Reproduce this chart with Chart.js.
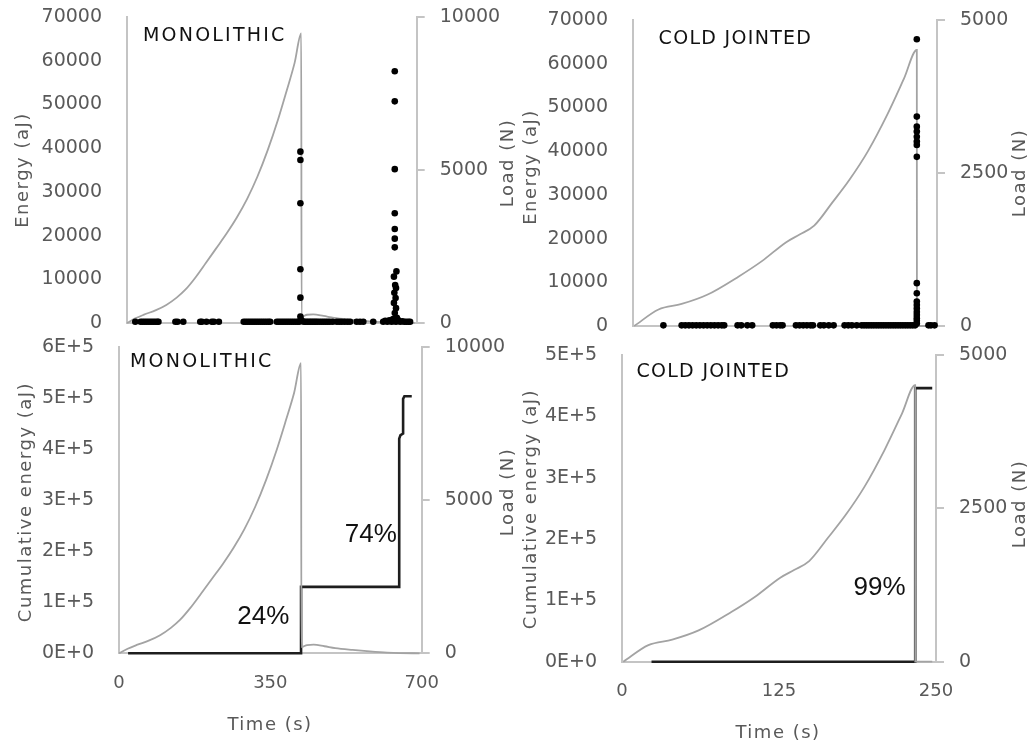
<!DOCTYPE html>
<html>
<head>
<meta charset="utf-8">
<script src="https://cdn.jsdelivr.net/npm/chart.js@4.4.1/dist/chart.umd.min.js"></script>
<style>
html,body{margin:0;padding:0;background:#fff;}
body{width:1032px;height:745px;position:relative;overflow:hidden;}
.p{position:absolute;}
</style>
</head>
<body>
<div class="p" style="left:0;top:0;width:525px;height:336px"><canvas id="c1"></canvas></div>
<div class="p" style="left:516px;top:0;width:516px;height:338px"><canvas id="c2"></canvas></div>
<div class="p" style="left:0;top:336px;width:525px;height:409px"><canvas id="c3"></canvas></div>
<div class="p" style="left:516px;top:338px;width:516px;height:407px"><canvas id="c4"></canvas></div>
<script>
// ---------- DATA ----------
// Monolithic: load (N) vs time (s)
const monoLoadTime = [0, 20, 41, 70, 95, 120, 141, 165, 190, 215, 241, 265, 290, 315, 340, 365, 386, 405, 421, 421.8, 435, 450, 475, 500, 540, 580, 620, 650, 695];
const monoLoad     = [0, 150, 272, 420, 590, 830, 1087, 1480, 1950, 2430, 2930, 3440, 4050, 4780, 5650, 6650, 7600, 8500, 9460, 200, 270, 280, 230, 170, 110, 60, 20, 5, 0];
// Monolithic: AE hit energy (aJ)
const monoEnergyTime = [20, 33, 38, 43, 48, 53, 58, 63, 68, 73, 76, 117, 122, 136, 177, 181, 192, 205, 210, 222,
  282, 287, 292, 297, 302, 307, 312, 317, 322, 327, 332, 337, 342, 346, 362, 367, 372, 377, 382, 387, 392, 397, 402, 407, 412, 416,
  419, 419, 419, 419, 419, 419, 420,
  424, 428, 432, 436, 440, 444, 448, 452, 456, 460, 465, 470, 475, 480, 485, 490, 497, 507, 513, 519, 526, 533, 539, 555, 563, 571, 595,
  619, 624, 629, 634, 639, 644, 650, 655, 660, 665, 670, 675, 680, 684,
  647, 647, 647, 647, 647, 647, 647, 651, 645, 648, 650, 646, 649, 645, 650, 647, 652, 643, 655];
const monoEnergy = [300, 300, 300, 300, 300, 300, 300, 300, 300, 300, 300, 300, 300, 300, 300, 300, 300, 300, 300, 300,
  300, 300, 300, 300, 300, 300, 300, 300, 300, 300, 300, 300, 300, 300, 300, 300, 300, 300, 300, 300, 300, 300, 300, 300, 300, 300,
  39200, 37300, 27400, 12300, 5800, 1500, 800,
  400, 300, 300, 300, 300, 300, 300, 300, 300, 300, 300, 300, 300, 300, 300, 300, 300, 300, 300, 300, 300, 300, 300, 300, 300, 300, 300,
  300, 500, 300, 600, 300, 400, 300, 500, 300, 400, 300, 300, 300, 300,
  57600, 50700, 35200, 25100, 21500, 19300, 17300, 11800, 10600, 8700, 8000, 6900, 5700, 4600, 3400, 2300, 1200, 900, 700];
// Monolithic: cumulative energy (aJ)
const monoCumTime = [21, 421, 421, 648, 648, 651, 657, 657, 660, 677];
const monoCum     = [0, 0, 130000, 130000, 420000, 427000, 430000, 498000, 503000, 503000];

// Cold jointed: load (N) vs time (s)
const coldLoadTime = [1, 21, 40, 61, 87, 106, 126, 137, 149, 164, 178, 193, 209, 223, 233.4, 233.5, 247];
const coldLoad     = [0, 270, 360, 510, 810, 1060, 1370, 1495, 1640, 2020, 2390, 2850, 3450, 4050, 4510, 0, 0];
// Cold jointed: AE hit energy (aJ)
const coldEnergyTime = [25, 40, 43, 46, 49, 52, 55, 58, 61, 64, 67, 70, 73, 75, 86, 89, 94, 98, 115, 118, 121, 123,
  134, 137, 140, 143, 146, 148, 154, 157, 161, 165, 174, 177, 180, 184, 188, 190, 192, 194, 196, 198, 200, 202, 204,
  206, 208, 210, 212, 214, 216, 218, 220, 222, 224, 226, 228, 230, 232, 243, 245, 248,
  233.4, 233.4, 233.4, 233.4, 233.4, 233.4, 233.4, 233.4, 233.4, 233.4, 233.4, 233.4, 233.4, 233.4, 233.4, 233.4, 233.4, 233.4];
const coldEnergy = [150, 150, 150, 150, 150, 150, 150, 150, 150, 150, 150, 150, 150, 150, 150, 150, 150, 150, 150, 150, 150, 150,
  150, 150, 150, 150, 150, 150, 150, 150, 150, 150, 150, 150, 150, 150, 150, 150, 150, 150, 150, 150, 150, 150, 150,
  150, 150, 150, 150, 150, 150, 150, 150, 150, 150, 150, 150, 150, 150, 150, 150, 150,
  65600, 47900, 45600, 44500, 43300, 42200, 41400, 38700, 9800, 7500, 5600, 4800, 4000, 3200, 2500, 1800, 1200, 600];
// Cold jointed: cumulative energy (aJ)
const coldCumTime = [23.5, 233.4, 233.45, 247];
const coldCum     = [0, 0, 446000, 446000];

// Tick values / labels
const monoTimeTicks = [0, 350, 700];
const coldTimeTicks = [0, 125, 250];
const energyTicks = [0, 10000, 20000, 30000, 40000, 50000, 60000, 70000];
const monoLoadTicks = [0, 5000, 10000];
const coldLoadTicks = [0, 2500, 5000];
const monoCumTicks = [0, 100000, 200000, 300000, 400000, 500000, 600000];
const monoCumLabels = ['0E+0', '1E+5', '2E+5', '3E+5', '4E+5', '5E+5', '6E+5'];
const coldCumTicks = [0, 100000, 200000, 300000, 400000, 500000];
const coldCumLabels = ['0E+0', '1E+5', '2E+5', '3E+5', '4E+5', '5E+5'];

// ---------- STYLE ----------
const FONT = 'DejaVu Sans';
const TICKC = '#595959';
const AXC = '#c4c4c4';
const AXW = 2;
const LOADC = '#a3a3a3';
const TICKSIZE = 19;

function pts(xs, ys) { return xs.map((x, i) => ({x: x, y: ys[i]})); }

function textPlugin(items) {
  return {
    id: 'texts',
    afterDraw(chart) {
      const ctx = chart.ctx;
      items.forEach(it => {
        ctx.save();
        ctx.font = it.font;
        ctx.fillStyle = it.color;
        if ('letterSpacing' in ctx) ctx.letterSpacing = (it.ls || 0) + 'px';
        ctx.textAlign = it.align || 'center';
        ctx.textBaseline = 'middle';
        ctx.translate(it.x, it.y);
        if (it.rot) ctx.rotate(it.rot);
        ctx.fillText(it.text, 0, 0);
        ctx.restore();
      });
    }
  };
}

const titleFont = '18px "' + FONT + '"';
const boxFont = '19px "' + FONT + '"';
const pctFont = '26px "Liberation Sans"';
const R = -Math.PI / 2;

function noPad(s) { s.paddingTop = 0; s.paddingBottom = 0; s.paddingLeft = 0; s.paddingRight = 0; }

function panel(id, c) {
  new Chart(document.getElementById(id), {
    type: 'scatter',
    data: { datasets: c.datasets },
    options: {
      responsive: true, maintainAspectRatio: false, animation: false, devicePixelRatio: 1,
      layout: { padding: { top: c.padTop, left: 0, right: 0, bottom: 0 } },
      plugins: { legend: { display: false }, tooltip: { enabled: false } },
      scales: {
        x: {
          type: 'linear', position: 'bottom', min: 0, max: c.xTicks[c.xTicks.length - 1],
          grid: { display: false, drawTicks: false },
          border: { display: true, color: AXC, width: AXW },
          ticks: { display: c.showX, padding: 19, autoSkip: false, maxRotation: 0, color: TICKC, font: { family: FONT, size: 18 } },
          afterBuildTicks: s => { s.ticks = c.xTicks.map(v => ({value: v})); },
          afterFit: s => { s.height = c.xH; noPad(s); }
        },
        y: {
          type: 'linear', position: 'left', min: 0, max: c.yTicks[c.yTicks.length - 1],
          grid: { display: false, drawTicks: false },
          border: { display: true, color: AXC, width: AXW },
          ticks: { padding: 25, color: TICKC, font: { family: FONT, size: TICKSIZE },
                   callback: (v, i) => c.yLabels ? c.yLabels[i] : String(v) },
          afterBuildTicks: s => { s.ticks = c.yTicks.map(v => ({value: v})); },
          afterFit: s => { s.width = c.yW; noPad(s); }
        },
        y2: {
          type: 'linear', position: 'right', min: 0, max: c.y2Ticks[c.y2Ticks.length - 1],
          grid: { display: true, drawOnChartArea: false, drawTicks: true, tickLength: 8, color: AXC, lineWidth: AXW },
          border: { display: true, color: AXC, width: AXW },
          ticks: { padding: 15, color: TICKC, font: { family: FONT, size: TICKSIZE }, callback: v => String(v) },
          afterBuildTicks: s => { s.ticks = c.y2Ticks.map(v => ({value: v})); },
          afterFit: s => { s.width = c.y2W; noPad(s); }
        }
      }
    },
    plugins: [textPlugin(c.texts)]
  });
}

function dots(xs, ys) {
  return { data: pts(xs, ys), yAxisID: 'y', showLine: false, pointRadius: 3.3, pointBackgroundColor: '#000',
           pointBorderWidth: 0, pointHoverRadius: 0, clip: false, order: 0 };
}
function loadLine(xs, ys, order) {
  return { data: pts(xs, ys), yAxisID: 'y2', showLine: true, borderColor: LOADC, borderWidth: 1.8, pointRadius: 0,
           pointHoverRadius: 0, cubicInterpolationMode: 'monotone', fill: false, clip: false, order: order };
}
function cumLine(xs, ys, order) {
  return { data: pts(xs, ys), yAxisID: 'y', showLine: true, borderColor: '#1e1e1e', borderWidth: 2.6, pointRadius: 0,
           pointHoverRadius: 0, tension: 0, fill: false, clip: false, order: order };
}

// Top-left: MONOLITHIC energy
panel('c1', {
  padTop: 17, xH: 13, yW: 127, y2W: 108.3, showX: false,
  xTicks: monoTimeTicks, yTicks: energyTicks, y2Ticks: monoLoadTicks,
  datasets: [dots(monoEnergyTime, monoEnergy), loadLine(monoLoadTime, monoLoad, 1)],
  texts: [
    {text: 'Energy (aJ)', x: 23, y: 170, rot: R, font: titleFont, color: TICKC, ls: 1.5},
    {text: 'Load (N)', x: 508, y: 163, rot: R, font: titleFont, color: TICKC, ls: 1.5},
    {text: 'MONOLITHIC', x: 143, y: 36, align: 'left', font: boxFont, color: '#111', ls: 2.2}
  ]
});

// Top-right: COLD JOINTED energy
panel('c2', {
  padTop: 20, xH: 12, yW: 117, y2W: 95, showX: false,
  xTicks: coldTimeTicks, yTicks: energyTicks, y2Ticks: coldLoadTicks,
  datasets: [dots(coldEnergyTime, coldEnergy), loadLine(coldLoadTime, coldLoad, 1)],
  texts: [
    {text: 'Energy (aJ)', x: 15, y: 167, rot: R, font: titleFont, color: TICKC, ls: 1.5},
    {text: 'Load (N)', x: 504, y: 173, rot: R, font: titleFont, color: TICKC, ls: 1.5},
    {text: 'COLD JOINTED', x: 142.6, y: 39, align: 'left', font: boxFont, color: '#111', ls: 1.3}
  ]
});

// Bottom-left: MONOLITHIC cumulative
panel('c3', {
  padTop: 10.7, xH: 91.7, yW: 119, y2W: 103.3, showX: true,
  xTicks: monoTimeTicks, yTicks: monoCumTicks, yLabels: monoCumLabels, y2Ticks: monoLoadTicks,
  datasets: [cumLine(monoCumTime, monoCum, 1), loadLine(monoLoadTime, monoLoad, 0)],
  texts: [
    {text: 'Cumulative energy (aJ)', x: 26, y: 166, rot: R, font: titleFont, color: TICKC, ls: 1.5},
    {text: 'Load (N)', x: 508, y: 156, rot: R, font: titleFont, color: TICKC, ls: 1.5},
    {text: 'MONOLITHIC', x: 130, y: 26.5, align: 'left', font: boxFont, color: '#111', ls: 2.2},
    {text: '24%', x: 263.3, y: 280.7, font: pctFont, color: '#111'},
    {text: '74%', x: 370.8, y: 199, font: pctFont, color: '#111'},
    {text: 'Time (s)', x: 270, y: 389, font: titleFont, color: TICKC, ls: 1.5}
  ]
});

// Bottom-right: COLD JOINTED cumulative
panel('c4', {
  padTop: 17, xH: 83.3, yW: 106, y2W: 96, showX: true,
  xTicks: coldTimeTicks, yTicks: coldCumTicks, yLabels: coldCumLabels, y2Ticks: coldLoadTicks,
  datasets: [cumLine(coldCumTime, coldCum, 1), loadLine(coldLoadTime, coldLoad, 0)],
  texts: [
    {text: 'Cumulative energy (aJ)', x: 15, y: 171, rot: R, font: titleFont, color: TICKC, ls: 1.5},
    {text: 'Load (N)', x: 504, y: 166, rot: R, font: titleFont, color: TICKC, ls: 1.5},
    {text: 'COLD JOINTED', x: 120.4, y: 34.5, align: 'left', font: boxFont, color: '#111', ls: 1.3},
    {text: '99%', x: 363.5, y: 250, font: pctFont, color: '#111'},
    {text: 'Time (s)', x: 262, y: 395, font: titleFont, color: TICKC, ls: 1.5}
  ]
});
</script>
</body>
</html>
